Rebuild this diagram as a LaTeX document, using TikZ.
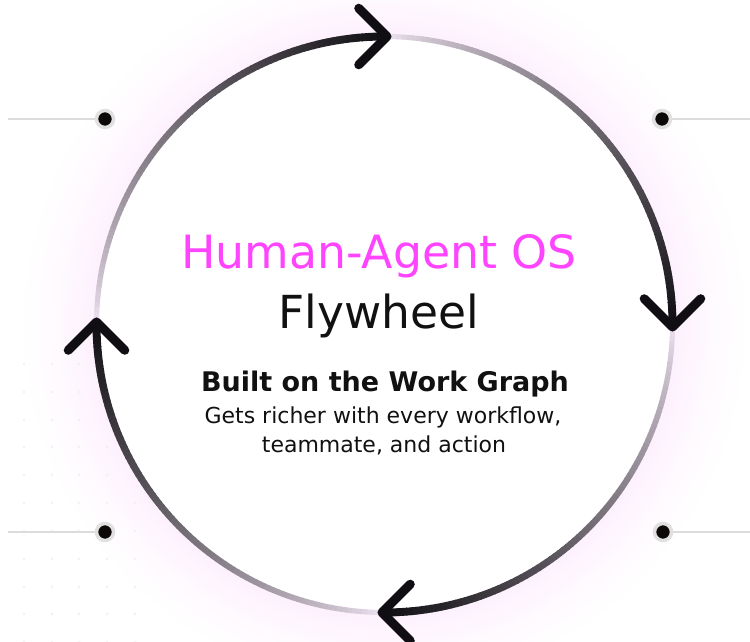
\documentclass[tikz,border=0pt]{standalone}
\usepackage{fontspec}
\setmainfont{DejaVu Sans}
\usetikzlibrary{calc}

\definecolor{wheelcolor0001}{RGB}{255,68,255}
\definecolor{wheelcolor0002}{RGB}{236,224,238}
\definecolor{wheelcolor0003}{RGB}{16,14,18}
\definecolor{wheelcolor0004}{RGB}{253,241,253}
\definecolor{wheelcolor0005}{RGB}{220,220,220}
\definecolor{wheelcolor0006}{RGB}{224,224,224}
\definecolor{wheelcolor0007}{RGB}{13,8,8}
\definecolor{wheelcolor0008}{RGB}{17,17,17}
\definecolor{wheelcolor0009}{RGB}{241,241,241}

\begin{document}
\begin{tikzpicture}[x=1pt,y=1pt,yscale=-1
,wstyle0/.style={color=wheelcolor0005,line width=2pt}
,wstyle1/.style={circle,fill=wheelcolor0007,draw=wheelcolor0006,line width=3.5pt,minimum size=17pt,inner sep=0}
,wstyle2/.style={color=wheelcolor0003,line width=9pt,line cap=round,line join=round}
,wstyle3/.style={line cap=butt}
,wstyle4/.style={inner sep=0,anchor=base,text=wheelcolor0008}
]
\useasboundingbox (0,0) rectangle (750,642);
\fill[white] (0,0) rectangle (750,642);
\coordinate (hub) at (384.5,324.5);
% soft glow outside the wheel
\foreach \k in {14,13,...,0}{
  \pgfmathtruncatemacro\pct{100*(1-\k/15)^1.5}
  \draw[color=wheelcolor0004!\pct!white,line width=6pt] (hub) circle (292+\k*5);
}
% faint dot grid
\foreach \gx in {24,52,79,107,135}{
  \foreach \gy in {364,392,420,447,475,503,531,559,587,614,642}{
    \fill[wheelcolor0009] (\gx,\gy) circle (1.3);
  }
}
\fill[white] (hub) circle (288);
% the four quarter arcs, light to dark
\foreach \q in {180,270,360,450}{
  \foreach \i in {0,...,89}{
    \pgfmathtruncatemacro\pct{100*(\i/89)^0.8}
    \pgfmathsetmacro\lw{5+3*\i/89}
    \draw[wstyle3,draw=wheelcolor0003!\pct!wheelcolor0002,line width=\lw pt] (hub) ++(\q+\i+0.5:288) arc (\q+\i+0.5:\q+\i+1.7:288);
  }
}
\coordinate (tiptop) at ($(hub)+(270.5:288)$);
\coordinate (tipright) at ($(hub)+(360.5:288)$);
\coordinate (tipbottom) at ($(hub)+(90.5:288)$);
\coordinate (tipleft) at ($(hub)+(180.5:288)$);
\draw[wstyle2] ($(tiptop)+(225:40)$) -- (tiptop) -- ($(tiptop)+(135:40)$);
\draw[wstyle2] ($(tipright)+(315:40)$) -- (tipright) -- ($(tipright)+(225:40)$);
\draw[wstyle2] ($(tipbottom)+(45:40)$) -- (tipbottom) -- ($(tipbottom)+(315:40)$);
\draw[wstyle2] ($(tipleft)+(135:40)$) -- (tipleft) -- ($(tipleft)+(45:40)$);
% side markers
\coordinate (edgenw) at (8,119);
\coordinate (edgene) at (750,119);
\coordinate (edgesw) at (8,532);
\coordinate (edgese) at (750,532);
\node[wstyle1] (dotnw) at (105,119) {};
\node[wstyle1] (dotne) at (662,119) {};
\node[wstyle1] (dotsw) at (105,532) {};
\node[wstyle1] (dotse) at (663,532) {};
\draw[wstyle0] (edgenw) -- (dotnw);
\draw[wstyle0] (dotne) -- (edgene);
\draw[wstyle0] (edgesw) -- (dotsw);
\draw[wstyle0] (dotse) -- (edgese);
% centre texts
\node[wstyle4,text=wheelcolor0001,font=\fontsize{45.8pt}{54pt}\selectfont] (title) at (379,268) {Human-Agent OS};
\node[wstyle4,font=\fontsize{45.5pt}{54pt}\selectfont] (subtitle) at (379,328) {Flywheel};
\node[wstyle4,font=\fontsize{27pt}{32pt}\selectfont\bfseries] (basis) at (385,391) {Built on the Work Graph};
\node[wstyle4,font=\fontsize{22pt}{26pt}\selectfont] (notea) at (383,423) {Gets richer with every workflow,};
\node[wstyle4,font=\fontsize{22pt}{26pt}\selectfont] (noteb) at (384,452) {teammate, and action};
\end{tikzpicture}
\end{document}
